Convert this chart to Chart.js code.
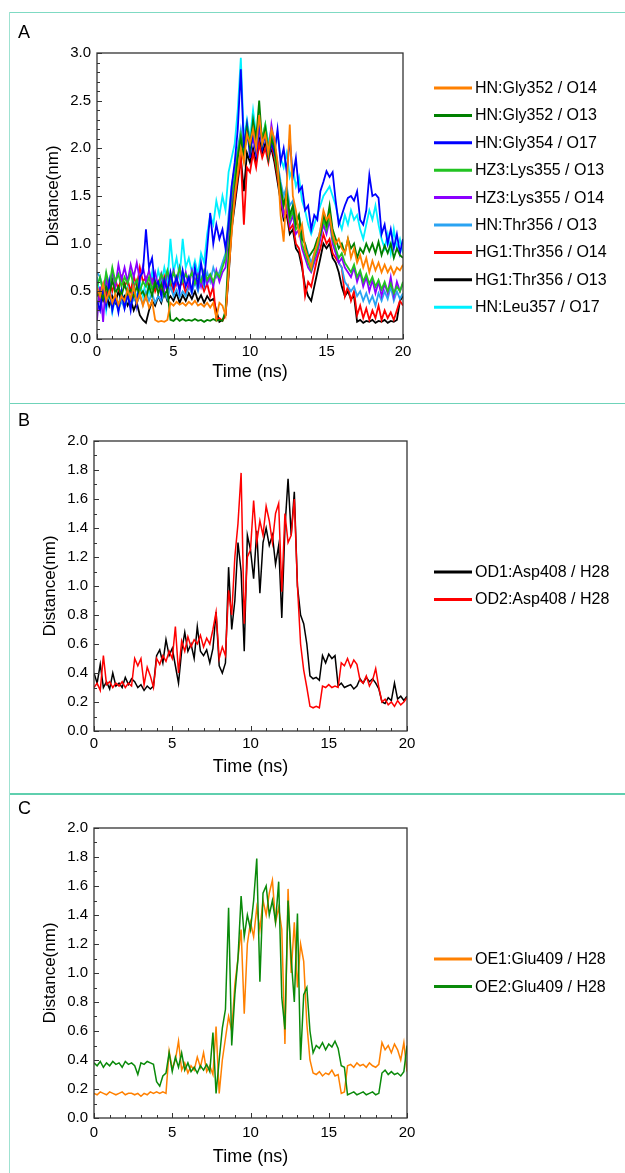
<!DOCTYPE html>
<html><head><meta charset="utf-8">
<script src="https://cdn.jsdelivr.net/npm/chart.js@4/dist/chart.umd.min.js"></script>
<style>
html,body{margin:0;padding:0;background:#fff;}
body{width:625px;height:1173px;position:relative;overflow:hidden;font-family:"Liberation Sans",Arial,sans-serif;}
.cv{position:absolute;left:0;}
.hl{position:absolute;left:9px;right:0;background:#7fdac3;}
.vl{position:absolute;left:9px;top:12px;width:1px;bottom:0;background:#9fe2d1;}
.lab{position:absolute;left:18px;font-size:18px;line-height:18px;color:#000;}
</style></head><body>
<canvas id="cA" class="cv" width="625" height="400" style="top:0"></canvas>
<canvas id="cB" class="cv" width="625" height="390" style="top:400px"></canvas>
<canvas id="cC" class="cv" width="625" height="383" style="top:790px"></canvas>
<div class="hl" style="top:12px;height:1px"></div>
<div class="hl" style="top:403px;height:1px;background:#6fd3b9"></div>
<div class="hl" style="top:793px;height:2px;background:#5fcfae"></div>
<div class="vl"></div>
<div class="lab" style="top:23px">A</div>
<div class="lab" style="top:411px">B</div>
<div class="lab" style="top:799px">C</div>
<script>
const timeNs = [0,0.2,0.4,0.6,0.8,1,1.2,1.4,1.6,1.8,2,2.2,2.4,2.6,2.8,3,3.2,3.4,3.6,3.8,4,4.2,4.4,4.6,4.8,5,5.2,5.4,5.6,5.8,6,6.2,6.4,6.6,6.8,7,7.2,7.4,7.6,7.8,8,8.2,8.4,8.6,8.8,9,9.2,9.4,9.6,9.8,10,10.2,10.4,10.6,10.8,11,11.2,11.4,11.6,11.8,12,12.2,12.4,12.6,12.8,13,13.2,13.4,13.6,13.8,14,14.2,14.4,14.6,14.8,15,15.2,15.4,15.6,15.8,16,16.2,16.4,16.6,16.8,17,17.2,17.4,17.6,17.8,18,18.2,18.4,18.6,18.8,19,19.2,19.4,19.6,19.8,20];
const xTicks = [0,5,10,15,20];
const yTicksA = [0,0.5,1.0,1.5,2.0,2.5,3.0];
const yTicksBC = [0,0.2,0.4,0.6,0.8,1.0,1.2,1.4,1.6,1.8,2.0];

// Panel A
const labelsA = ['HN:Gly352 / O14','HN:Gly352 / O13','HN:Gly354 / O17','HZ3:Lys355 / O13','HZ3:Lys355 / O14','HN:Thr356 / O13','HG1:Thr356 / O14','HG1:Thr356 / O13','HN:Leu357 / O17'];
const colorsA = ['#ff8000','#008000','#0000ff','#22c322','#8a00ff','#2aa3f2','#ff0000','#000000','#00f0ff'];
const gly352_O14 = [0.55,0.45,0.58,0.40,0.50,0.38,0.47,0.36,0.45,0.40,
0.52,0.42,0.55,0.38,0.48,0.35,0.45,0.33,0.40,0.20,
0.18,0.19,0.18,0.20,0.38,0.35,0.39,0.36,0.38,0.35,
0.39,0.36,0.40,0.35,0.37,0.34,0.38,0.33,0.38,0.22,
0.38,0.35,0.25,0.70,1.10,1.50,1.75,2.00,1.85,2.15,
2.05,2.20,2.00,2.35,2.05,2.15,1.95,2.20,2.10,1.85,
1.30,1.02,1.60,2.25,1.50,1.35,1.10,1.20,0.95,0.85,
0.75,0.90,1.00,1.15,1.35,1.25,1.30,1.10,1.00,1.05,
0.95,0.90,1.05,0.85,0.95,0.80,0.88,0.75,0.85,0.70,
0.82,0.72,0.80,0.70,0.78,0.70,0.76,0.68,0.75,0.72,
0.78];
const gly352_O13 = [0.45,0.50,0.42,0.55,0.45,0.62,0.48,0.55,0.45,0.58,
0.47,0.52,0.44,0.55,0.46,0.50,0.42,0.56,0.45,0.60,
0.48,0.58,0.45,0.52,0.20,0.19,0.22,0.19,0.21,0.19,
0.20,0.19,0.21,0.19,0.20,0.18,0.20,0.19,0.21,0.19,
0.20,0.19,0.30,0.90,1.30,1.55,1.90,2.10,1.90,2.20,
2.00,2.30,2.10,2.50,2.05,2.20,1.90,2.10,2.00,1.80,
1.60,1.40,1.55,1.30,1.40,1.20,1.30,1.05,1.00,0.85,
0.90,0.95,1.05,1.10,1.30,1.20,1.40,1.15,1.05,0.95,
1.00,0.90,1.05,0.95,1.00,0.85,0.95,0.90,1.00,0.92,
1.00,0.90,1.02,0.88,0.98,0.90,1.00,0.85,0.95,0.88,
0.85];
const gly354_O17 = [0.40,0.30,0.55,0.35,0.60,0.30,0.45,0.28,0.50,0.32,
0.48,0.30,0.55,0.35,0.65,0.70,1.15,0.75,0.85,0.55,
0.60,0.45,0.62,0.50,0.70,0.55,0.65,0.50,0.72,0.55,
0.65,0.50,0.75,0.55,0.80,0.60,0.95,1.32,1.00,1.20,
1.05,1.15,0.95,1.20,1.60,1.85,2.20,2.83,2.00,2.25,
1.90,2.20,1.95,2.30,2.00,2.15,1.90,2.05,1.95,2.20,
1.85,2.00,1.75,2.10,1.70,1.90,1.55,1.60,1.35,1.40,
1.15,1.30,1.25,1.55,1.65,1.76,1.70,1.75,1.45,1.20,
1.30,1.40,1.48,1.50,1.45,1.55,1.25,1.20,1.35,1.72,
1.50,1.52,1.48,1.10,1.20,1.00,1.15,0.95,1.10,0.90,
1.05];
const lys355_O13 = [0.55,0.65,0.50,0.70,0.55,0.75,0.60,0.68,0.55,0.65,
0.58,0.70,0.55,0.62,0.50,0.60,0.55,0.65,0.52,0.60,
0.55,0.68,0.60,0.72,0.58,0.70,0.62,0.75,0.60,0.68,
0.62,0.70,0.58,0.66,0.60,0.72,0.62,0.68,0.60,0.70,
0.65,0.75,0.85,1.20,1.50,1.70,1.95,2.15,2.00,2.25,
2.05,2.20,2.00,2.30,2.10,2.25,2.00,2.15,1.95,1.75,
1.55,1.40,1.50,1.25,1.35,1.15,1.20,1.00,0.90,0.80,
0.72,0.85,0.95,1.10,1.25,1.15,1.30,1.05,0.95,0.85,
0.90,0.80,0.75,0.70,0.78,0.65,0.72,0.60,0.68,0.58,
0.65,0.55,0.62,0.52,0.60,0.50,0.58,0.48,0.55,0.50,
0.60];
const lys355_O14 = [0.20,0.55,0.18,0.65,0.50,0.72,0.55,0.78,0.62,0.75,
0.60,0.78,0.65,0.80,0.62,0.76,0.60,0.72,0.58,0.70,
0.55,0.68,0.52,0.70,0.60,0.72,0.58,0.75,0.60,0.70,
0.55,0.72,0.60,0.68,0.55,0.70,0.58,0.66,0.55,0.72,
0.60,0.70,0.75,1.10,1.40,1.65,1.90,2.10,1.95,2.15,
2.00,2.10,1.95,2.20,2.05,2.15,1.95,2.25,2.05,1.80,
1.50,1.30,1.40,1.20,1.30,1.10,1.15,0.95,0.85,0.75,
0.70,0.80,0.90,1.05,1.20,1.10,1.25,1.00,0.90,0.80,
0.85,0.75,0.70,0.65,0.75,0.60,0.70,0.55,0.65,0.50,
0.62,0.48,0.60,0.45,0.58,0.48,0.65,0.45,0.60,0.50,
0.58];
const thr356_O13 = [0.70,0.65,0.50,0.40,0.45,0.35,0.42,0.30,0.40,0.32,
0.45,0.35,0.42,0.38,0.45,0.36,0.50,0.40,0.48,0.38,
0.45,0.40,0.50,0.42,0.55,0.45,0.52,0.44,0.50,0.45,
0.55,0.48,0.60,0.50,0.65,0.55,0.70,0.60,0.75,0.65,
0.70,0.80,0.90,1.30,1.60,1.80,2.00,2.20,1.95,2.15,
2.05,2.25,2.00,2.20,2.05,2.20,2.00,2.15,2.05,1.85,
1.65,1.50,1.60,1.40,1.45,1.25,1.30,1.10,1.00,0.90,
0.80,0.90,1.00,1.15,1.30,1.20,1.35,1.10,0.95,0.80,
0.75,0.60,0.55,0.50,0.55,0.45,0.50,0.40,0.48,0.38,
0.45,0.35,0.48,0.40,0.50,0.42,0.55,0.40,0.50,0.42,
0.48];
const hg1Thr356_O14 = [0.50,0.40,0.55,0.45,0.60,0.50,0.62,0.52,0.65,0.55,
0.62,0.50,0.66,0.55,0.75,0.60,0.65,0.55,0.62,0.50,
0.60,0.48,0.65,0.52,0.60,0.50,0.62,0.55,0.60,0.48,
0.58,0.50,0.62,0.52,0.60,0.50,0.58,0.45,0.55,0.20,
0.22,0.19,0.25,0.70,1.20,1.45,1.70,1.90,1.20,1.80,
1.75,1.95,1.80,2.05,1.90,2.00,1.85,2.05,1.90,1.70,
1.50,1.30,1.35,1.15,1.20,1.00,0.95,0.80,0.45,0.60,
0.55,0.70,0.85,0.95,1.10,1.00,1.05,0.90,0.85,0.80,
0.75,0.45,0.55,0.40,0.50,0.25,0.35,0.22,0.32,0.20,
0.30,0.22,0.35,0.20,0.30,0.22,0.28,0.20,0.30,0.40,
0.35];
const hg1Thr356_O13 = [0.45,0.50,0.40,0.48,0.35,0.45,0.38,0.50,0.40,0.45,
0.35,0.42,0.30,0.38,0.25,0.20,0.17,0.30,0.40,0.35,
0.45,0.38,0.50,0.40,0.45,0.40,0.48,0.38,0.46,0.40,
0.48,0.42,0.50,0.40,0.46,0.38,0.45,0.40,0.42,0.30,
0.18,0.20,0.25,0.65,1.15,1.40,1.65,1.90,1.55,1.95,
1.85,2.00,1.85,2.10,1.95,2.05,1.90,2.00,1.85,1.65,
1.45,1.25,1.30,1.10,1.15,0.95,0.90,0.75,0.55,0.45,
0.40,0.55,0.70,0.85,1.00,0.95,1.00,0.85,0.80,0.70,
0.55,0.45,0.50,0.42,0.45,0.18,0.20,0.17,0.19,0.18,
0.20,0.17,0.19,0.18,0.20,0.17,0.19,0.18,0.20,0.40,
0.45];
const leu357_O17 = [0.65,0.40,0.55,0.30,0.50,0.28,0.45,0.35,0.50,0.38,
0.55,0.40,0.58,0.42,0.60,0.45,0.62,0.48,0.70,0.55,
0.72,0.58,0.75,0.60,1.05,0.70,0.85,0.65,1.05,0.75,
0.85,0.70,0.82,0.68,0.90,0.80,1.10,1.30,1.20,1.45,
1.30,1.50,1.35,1.75,1.90,2.05,2.40,2.95,2.10,2.30,
2.10,2.40,2.15,2.30,2.10,2.25,2.05,2.20,2.00,2.15,
1.90,1.80,1.95,1.70,1.80,1.60,1.70,1.45,1.35,1.20,
1.10,1.20,1.30,1.40,1.50,1.55,1.60,1.50,1.40,1.25,
1.15,1.30,1.20,1.35,1.25,1.30,1.15,1.05,1.20,1.35,
1.25,1.40,1.20,1.05,0.95,1.10,0.90,1.15,0.95,1.05,
0.90];
const seriesA = [gly352_O14,gly352_O13,gly354_O17,lys355_O13,lys355_O14,thr356_O13,hg1Thr356_O14,hg1Thr356_O13,leu357_O17];

// Panel B
const labelsB = ['OD1:Asp408 / H28','OD2:Asp408 / H28'];
const colorsB = ['#000000','#ff0000'];
const od1Asp408 = [0.40,0.33,0.46,0.30,0.34,0.29,0.40,0.31,0.33,0.30,
0.37,0.32,0.36,0.34,0.30,0.32,0.28,0.31,0.29,0.31,
0.52,0.56,0.47,0.63,0.52,0.57,0.45,0.33,0.55,0.68,
0.55,0.60,0.50,0.72,0.55,0.52,0.56,0.47,0.57,0.82,
0.45,0.40,0.47,1.13,0.70,0.90,1.30,1.10,0.55,1.35,
1.25,1.05,1.38,0.95,1.30,1.40,1.28,1.35,1.15,1.28,
0.78,1.40,1.74,1.35,1.65,1.00,0.80,0.74,0.60,0.38,
0.36,0.37,0.35,0.52,0.47,0.53,0.50,0.52,0.31,0.33,
0.30,0.31,0.32,0.29,0.31,0.36,0.33,0.37,0.34,0.36,
0.33,0.29,0.20,0.19,0.23,0.21,0.33,0.22,0.24,0.21,
0.24];
const od2Asp408 = [0.30,0.33,0.28,0.52,0.32,0.34,0.30,0.33,0.31,0.34,
0.30,0.33,0.31,0.50,0.45,0.50,0.32,0.44,0.38,0.30,
0.50,0.46,0.52,0.48,0.55,0.50,0.72,0.40,0.62,0.55,
0.65,0.58,0.63,0.60,0.66,0.58,0.64,0.60,0.70,0.82,
0.50,0.58,0.52,0.97,0.80,1.20,1.43,1.78,0.74,1.20,
1.25,1.59,1.30,1.45,1.35,1.55,1.45,1.30,1.50,1.57,
0.96,1.50,1.30,1.35,1.60,1.00,0.60,0.42,0.30,0.17,
0.16,0.17,0.16,0.31,0.30,0.32,0.30,0.31,0.30,0.47,
0.45,0.50,0.44,0.49,0.46,0.35,0.33,0.38,0.31,0.35,
0.43,0.30,0.20,0.22,0.18,0.20,0.17,0.21,0.18,0.20,
0.23];
const seriesB = [od1Asp408, od2Asp408];

// Panel C
const labelsC = ['OE1:Glu409 / H28','OE2:Glu409 / H28'];
const colorsC = ['#ff8000','#0a8a0a'];
const oe1Glu409 = [0.17,0.16,0.18,0.17,0.16,0.18,0.17,0.16,0.17,0.18,
0.16,0.17,0.17,0.16,0.17,0.15,0.17,0.16,0.18,0.17,
0.18,0.17,0.18,0.17,0.46,0.34,0.40,0.53,0.33,0.38,
0.31,0.36,0.33,0.42,0.35,0.45,0.32,0.36,0.30,0.63,
0.17,0.40,0.55,0.70,0.60,0.92,1.10,1.30,0.72,1.20,
1.35,1.25,1.45,1.30,1.50,1.40,1.55,1.64,1.35,1.45,
1.30,0.51,1.58,1.00,1.35,0.90,1.20,1.08,0.65,0.40,
0.31,0.30,0.32,0.29,0.31,0.30,0.33,0.29,0.30,0.17,
0.18,0.36,0.37,0.35,0.38,0.36,0.37,0.35,0.38,0.36,
0.35,0.37,0.52,0.47,0.50,0.45,0.51,0.47,0.40,0.52,
0.32];
const oe2Glu409 = [0.38,0.36,0.39,0.35,0.38,0.36,0.39,0.37,0.38,0.35,
0.39,0.37,0.38,0.36,0.30,0.38,0.37,0.39,0.38,0.37,
0.25,0.22,0.29,0.31,0.45,0.32,0.42,0.35,0.45,0.33,
0.38,0.32,0.35,0.31,0.36,0.33,0.37,0.32,0.59,0.17,
0.40,0.62,0.75,1.45,0.50,0.85,1.10,1.53,1.25,1.40,
1.30,1.50,1.79,0.94,1.55,1.60,1.40,1.50,1.35,1.63,
0.83,0.61,1.50,1.10,0.80,1.41,0.40,0.85,0.90,0.60,
0.45,0.50,0.48,0.52,0.47,0.51,0.49,0.53,0.48,0.36,
0.35,0.16,0.17,0.18,0.16,0.17,0.18,0.16,0.17,0.18,
0.16,0.17,0.31,0.33,0.30,0.32,0.30,0.31,0.29,0.32,
0.50];
const seriesC = [oe1Glu409, oe2Glu409];

const FONT = '"Liberation Sans", Arial, sans-serif';

const framePlugin = {
  id: 'frameTicks',
  afterDatasetsDraw(chart, args, o) {
    const {ctx, chartArea: a, scales: {x, y}} = chart;
    ctx.save();
    ctx.strokeStyle = '#333';
    ctx.lineWidth = 1;
    ctx.beginPath();
    for (let v = 0; v <= 20; v += 1) {
      const px = Math.round(x.getPixelForValue(v)) + 0.5;
      const len = (v % 5 === 0) ? 5 : 3;
      ctx.moveTo(px, a.bottom); ctx.lineTo(px, a.bottom - len);
    }
    const yMajor = o.yMajor, yMax = o.yMax;
    const nMinor = Math.round(yMax / 0.1);
    for (let k = 0; k <= nMinor; k++) {
      const v = k * 0.1;
      const py = Math.round(y.getPixelForValue(v)) + 0.5;
      const isMajor = Math.abs(v / yMajor - Math.round(v / yMajor)) < 1e-6;
      const len = isMajor ? 5 : 3;
      ctx.moveTo(a.left, py); ctx.lineTo(a.left + len, py);
    }
    ctx.stroke();
    ctx.lineWidth = 1.3;
    ctx.strokeRect(a.left, a.top, a.right - a.left, a.bottom - a.top);
    ctx.restore();
  },
  afterDraw(chart, args, o) {
    const ctx = chart.ctx;
    ctx.save();
    ctx.font = '16px ' + FONT;
    ctx.textBaseline = 'middle';
    ctx.textAlign = 'left';
    chart.data.datasets.forEach((ds, i) => {
      const yy = o.legY + i * o.legStep;
      ctx.strokeStyle = ds.borderColor;
      ctx.lineWidth = 3;
      ctx.beginPath();
      ctx.moveTo(434, yy); ctx.lineTo(472, yy);
      ctx.stroke();
      ctx.fillStyle = '#000';
      ctx.fillText(ds.label, 475, yy + 0.5);
    });
    ctx.restore();
  }
};

function makeChart(id, cfg) {
  const datasets = cfg.series.map((vals, i) => ({
    label: cfg.labels[i],
    data: vals.map((v, k) => ({x: timeNs[k], y: v})),
    borderColor: cfg.colors[i],
    backgroundColor: cfg.colors[i],
    borderWidth: cfg.lw,
    pointRadius: 0,
    tension: 0,
    fill: false,
    order: cfg.order ? cfg.order[i] : i
  }));
  return new Chart(document.getElementById(id), {
    type: 'line',
    data: {datasets},
    options: {
      responsive: false,
      animation: false,
      events: [],
      layout: {padding: cfg.pad},
      plugins: {
        legend: {display: false},
        tooltip: {enabled: false},
        frameTicks: {yMajor: cfg.yStep, yMax: cfg.yMax, legY: cfg.legY, legStep: cfg.legStep}
      },
      scales: {
        x: {
          type: 'linear', min: 0, max: 20,
          afterBuildTicks: s => { s.ticks = xTicks.map(v => ({value: v})); },
          ticks: {color: '#000', font: {family: FONT, size: 15}, padding: cfg.xTickPad, maxRotation: 0, autoSkip: false},
          grid: {display: false, drawTicks: false},
          border: {display: false},
          title: {display: true, text: 'Time (ns)', color: '#000', font: {family: FONT, size: 18}, padding: 0},
          afterFit: s => { s.height = cfg.xH; }
        },
        y: {
          type: 'linear', min: 0, max: cfg.yMax,
          afterBuildTicks: s => { s.ticks = cfg.yTicks.map(v => ({value: v})); },
          ticks: {color: '#000', font: {family: FONT, size: 15}, padding: 6, autoSkip: false,
                  callback: v => Number(v).toFixed(1)},
          grid: {display: false, drawTicks: false},
          border: {display: false},
          title: {display: true, text: 'Distance(nm)', color: '#000', font: {family: FONT, size: 17}, padding: {top: cfg.yTitlePad, bottom: 0}},
          afterFit: s => { s.width = 60; }
        }
      }
    },
    plugins: [framePlugin]
  });
}

// Panel A: chart area x 97..403, y 53..339 (canvas height 400)
makeChart('cA', {series: seriesA, labels: labelsA, colors: colorsA, lw: 1.8,
  pad: {left: 37, right: 222, top: 53, bottom: 17}, xH: 44, xTickPad: 4,
  yMax: 3, yStep: 0.5, yTicks: yTicksA, yTitlePad: 6, legY: 88, legStep: 27.4});
// Panel B: chart area x 94..407, y 441..731 (canvas top 400, height 390)
makeChart('cB', {series: seriesB, labels: labelsB, colors: colorsB, lw: 1.5, order: [1, 0],
  pad: {left: 34, right: 218, top: 41, bottom: 12}, xH: 47, xTickPad: 4,
  yMax: 2, yStep: 0.2, yTicks: yTicksBC, yTitlePad: 6, legY: 172, legStep: 27.4});
// Panel C: chart area x 94..407, y 828..1118 (canvas top 790, height 383)
makeChart('cC', {series: seriesC, labels: labelsC, colors: colorsC, lw: 1.5, order: [1, 0],
  pad: {left: 34, right: 218, top: 38, bottom: 5}, xH: 50, xTickPad: 6,
  yMax: 2, yStep: 0.2, yTicks: yTicksBC, yTitlePad: 6, legY: 169, legStep: 27.6});
</script>
</body></html>
